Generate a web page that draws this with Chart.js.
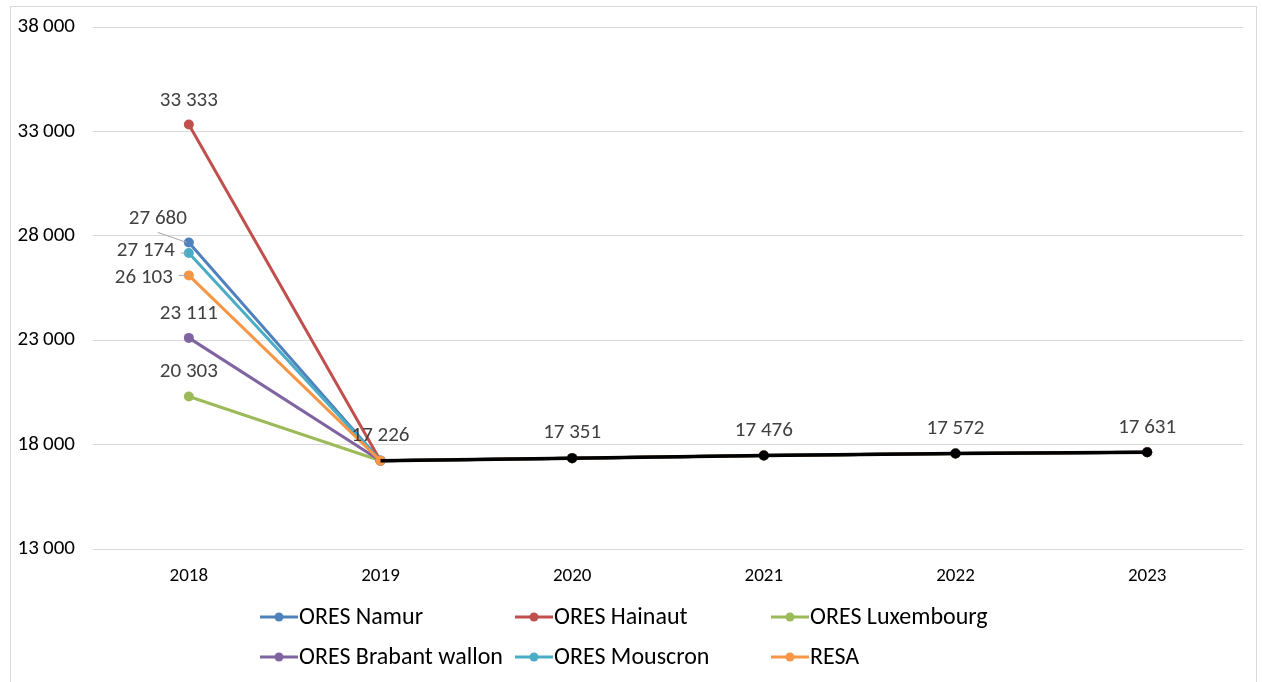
<!DOCTYPE html>
<html>
<head>
<meta charset="utf-8">
<script src="https://cdn.jsdelivr.net/npm/chart.js@4/dist/chart.umd.min.js"></script>
<style>
  html, body { margin: 0; padding: 0; background: #fff; }
  #wrap { width: 1262px; height: 682px; position: relative; }
</style>
</head>
<body>
<div id="wrap"><canvas id="chart"></canvas></div>
<script>
const years = ['2018', '2019', '2020', '2021', '2022', '2023'];

const oresNamur      = [27680, 17226, 17351, 17476, 17572, 17631];
const oresHainaut    = [33333, 17226, 17351, 17476, 17572, 17631];
const oresLuxembourg = [20303, 17226, 17351, 17476, 17572, 17631];
const oresBrabant    = [23111, 17226, 17351, 17476, 17572, 17631];
const oresMouscron   = [27174, 17226, 17351, 17476, 17572, 17631];
const resa           = [26103, 17226, 17351, 17476, 17572, 17631];
const tarifCommun    = [null, 17226, 17351, 17476, 17572, 17631];

const yTicks = [13000, 18000, 23000, 28000, 33000, 38000];

const FONT = 'Carlito, Lato, sans-serif';

function fmt(n, sep) {
  return String(n).replace(/\B(?=(\d{3})+(?!\d))/g, sep || ' ');
}

// excel draws later series on top -> lower chart.js order
function series(label, data, color, order, labelPos) {
  return {
    label: label,
    data: data,
    borderColor: color,
    backgroundColor: color,
    borderWidth: 3,
    pointRadius: 5,
    pointHoverRadius: 5,
    pointBorderWidth: 0,
    tension: 0,
    order: order,
    labelIdx: [0],
    labelPos: labelPos
  };
}

const datasets = [
  series('ORES Namur', oresNamur, '#4F81BD', 6, { dx: -31, dy: -24, align: 'center', leader: true }),
  series('ORES Hainaut', oresHainaut, '#C0504D', 5, { dx: 0, dy: -24, align: 'center' }),
  series('ORES Luxembourg', oresLuxembourg, '#9BBB59', 4, { dx: 0, dy: -25, align: 'center' }),
  series('ORES Brabant wallon', oresBrabant, '#8064A2', 3, { dx: 0, dy: -24, align: 'center' }),
  series('ORES Mouscron', oresMouscron, '#4BACC6', 2, { dx: -14, dy: -2, align: 'right', dash: true }),
  series('RESA', resa, '#F79646', 1, { dx: -16, dy: 2, align: 'right', dash: true }),
  {
    label: 'Tarif commun',
    data: tarifCommun,
    borderColor: '#000000',
    backgroundColor: '#000000',
    borderWidth: 3.5,
    pointRadius: [0, 0, 5, 5, 5, 5],
    pointHoverRadius: 5,
    pointBorderWidth: 0,
    tension: 0,
    order: 0,
    inLegend: false,
    labelIdx: [1, 2, 3, 4, 5],
    labelPos: { dx: 0, dy: -25, align: 'center' }
  }
];

// data labels (no datalabels plugin available offline)
const valueLabels = {
  id: 'valueLabels',
  afterDatasetsDraw(chart) {
    const ctx = chart.ctx;
    ctx.save();
    ctx.font = '21px ' + FONT;
    ctx.fillStyle = '#404040';
    ctx.textBaseline = 'middle';
    chart.data.datasets.forEach((ds, i) => {
      const meta = chart.getDatasetMeta(i);
      ds.labelIdx.forEach(idx => {
        const pt = meta.data[idx];
        const p = ds.labelPos;
        const x = pt.x + p.dx;
        const y = pt.y + p.dy;
        if (p.leader) {
          ctx.strokeStyle = '#a6a6a6';
          ctx.lineWidth = 1;
          ctx.beginPath();
          ctx.moveTo(x, y + 14);
          ctx.lineTo(pt.x - 2, pt.y);
          ctx.stroke();
        }
        if (p.dash) {
          ctx.strokeStyle = '#a6a6a6';
          ctx.lineWidth = 1;
          ctx.beginPath();
          ctx.moveTo(x + 6, pt.y);
          ctx.lineTo(pt.x - 2, pt.y);
          ctx.stroke();
        }
        ctx.textAlign = p.align;
        ctx.fillText(fmt(ds.data[idx]), x, y);
      });
    });
    ctx.restore();
  }
};

// Excel-like grid legend + outer frame
const sheetLegend = {
  id: 'sheetLegend',
  beforeDraw(chart) {
    const ctx = chart.ctx;
    ctx.save();
    ctx.fillStyle = '#fff';
    ctx.fillRect(0, 0, chart.width, chart.height);
    ctx.strokeStyle = '#d9d9d9';
    ctx.lineWidth = 1;
    ctx.strokeRect(10.5, 6.5, 1246, 700);
    ctx.restore();
  },
  afterDraw(chart) {
    const ctx = chart.ctx;
    const cols = [260, 515, 771];
    const rows = [617, 657];
    ctx.save();
    ctx.font = '24px ' + FONT;
    ctx.textBaseline = 'middle';
    ctx.textAlign = 'left';
    let k = 0;
    chart.data.datasets.forEach(ds => {
      if (ds.inLegend === false) return;
      const x = cols[k % 3];
      const y = rows[Math.floor(k / 3)];
      ctx.strokeStyle = ds.borderColor;
      ctx.lineWidth = 3;
      ctx.beginPath();
      ctx.moveTo(x, y);
      ctx.lineTo(x + 38, y);
      ctx.stroke();
      ctx.fillStyle = ds.borderColor;
      ctx.beginPath();
      ctx.arc(x + 19, y, 4.5, 0, Math.PI * 2);
      ctx.fill();
      ctx.fillStyle = '#000';
      ctx.fillText(ds.label, x + 39, y + 1);
      k++;
    });
    ctx.restore();
  }
};

new Chart(document.getElementById('chart'), {
  type: 'line',
  data: { labels: years, datasets: datasets },
  options: {
    responsive: true,
    maintainAspectRatio: false,
    animation: false,
    layout: { padding: { left: 0, top: 27, right: 19, bottom: 93 } },
    plugins: {
      legend: { display: false },
      tooltip: { enabled: false }
    },
    scales: {
      x: {
        offset: true,
        grid: { display: false, drawTicks: false },
        border: { display: false },
        ticks: { color: '#000', font: { family: FONT, size: 19 }, padding: 16 },
        afterFit(scale) { scale.height = 40; }
      },
      y: {
        min: 13000,
        max: 38000,
        afterBuildTicks(scale) { scale.ticks = yTicks.map(v => ({ value: v })); },
        grid: { color: '#d9d9d9', lineWidth: 1, drawTicks: false },
        border: { display: false },
        ticks: {
          color: '#000',
          font: { family: FONT, size: 21 },
          padding: 18,
          callback: v => fmt(v, '\u2009')
        },
        afterFit(scale) {
          scale.width = 93;
          scale.paddingTop = 0;
          scale.paddingBottom = 0;
        }
      }
    }
  },
  plugins: [valueLabels, sheetLegend]
});
</script>
</body>
</html>
